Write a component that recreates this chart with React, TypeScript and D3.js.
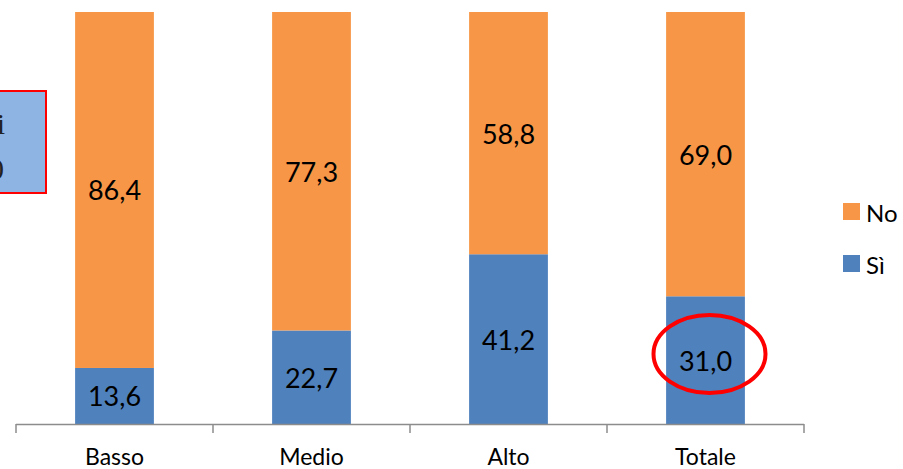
import React from "react";
import * as d3 from "d3";

const categories = ["Basso", "Medio", "Alto", "Totale"];
const siValues = [13.6, 22.7, 41.2, 31.0];
const noValues = [86.4, 77.3, 58.8, 69.0];
const seriesNames = ["No", "Sì"];

const W = 903;
const H = 469;
const FONT = "Lato, 'Open Sans', sans-serif";
const BLUE = "#4F81BD";
const ORANGE = "#F79646";

export default function App() {
  const x = d3.scaleBand<string>().domain(categories).range([16, 804]).paddingInner(0.6).paddingOuter(0.3);
  const y = d3.scaleLinear().domain([0, 100]).range([424, 12]);
  const fmt = (v: number) => d3.format(".1f")(v).replace(".", ",");
  const stepX = d3.scaleBand<string>().domain(categories).range([16, 804]);
  const ticks = categories.map((c) => stepX(c) as number).concat([804]);
  const bw = x.bandwidth();

  return (
    <svg width={W} height={H} style={{ position: "absolute", left: 0, top: 0, background: "#fff" }}>
      {categories.map((c, i) => {
        const x0 = x(c) as number;
        const ySi = y(siValues[i]);
        const yTop = y(siValues[i] + noValues[i]);
        return (
          <g key={c}>
            <rect x={x0} y={ySi} width={bw} height={y(0) - ySi} fill={BLUE} />
            <rect x={x0} y={yTop} width={bw} height={ySi - yTop} fill={ORANGE} />
            <text x={x0 + bw / 2} y={(ySi + y(0)) / 2} textAnchor="middle" dominantBaseline="central" fontFamily={FONT} fontSize={27} fill="#000">
              {fmt(siValues[i])}
            </text>
            <text x={x0 + bw / 2} y={(ySi + yTop) / 2} textAnchor="middle" dominantBaseline="central" fontFamily={FONT} fontSize={27} fill="#000">
              {fmt(noValues[i])}
            </text>
            <text x={(stepX(c) as number) + stepX.bandwidth() / 2} y={456} textAnchor="middle" dominantBaseline="central" fontFamily={FONT} fontSize={23} fill="#000">
              {c}
            </text>
          </g>
        );
      })}
      <line x1={16} x2={804} y1={424.5} y2={424.5} stroke="#8c8c8c" strokeWidth={1.5} />
      {ticks.map((t, i) => (
        <line key={i} x1={t} x2={t} y1={424} y2={433} stroke="#8c8c8c" strokeWidth={1.5} />
      ))}
      {/* legend */}
      {seriesNames.map((s, i) => (
        <g key={s}>
          <rect x={843} y={203 + i * 52} width={17} height={17} fill={i === 0 ? ORANGE : BLUE} />
          <text x={866} y={212 + i * 52} dominantBaseline="central" fontFamily={FONT} fontSize={24} fill="#000">
            {s}
          </text>
        </g>
      ))}
      {/* annotation box on the left */}
      <rect x={-20} y={91} width={66} height={102} fill="#8EB4E3" stroke="#FF0000" strokeWidth={2} />
      <text x={5} y={123} textAnchor="end" dominantBaseline="central" fontFamily="'Liberation Serif', 'DejaVu Serif', serif" fontSize={30} fill="#222">
        i
      </text>
      <text x={4} y={168} textAnchor="end" dominantBaseline="central" fontFamily="'Liberation Serif', 'DejaVu Serif', serif" fontSize={30} fill="#222">
        0
      </text>
      {/* highlight ellipse */}
      <ellipse cx={(x("Totale") as number) + bw / 2 + 4} cy={354} rx={56} ry={39} fill="none" stroke="#FF0000" strokeWidth={4} />
    </svg>
  );
}
